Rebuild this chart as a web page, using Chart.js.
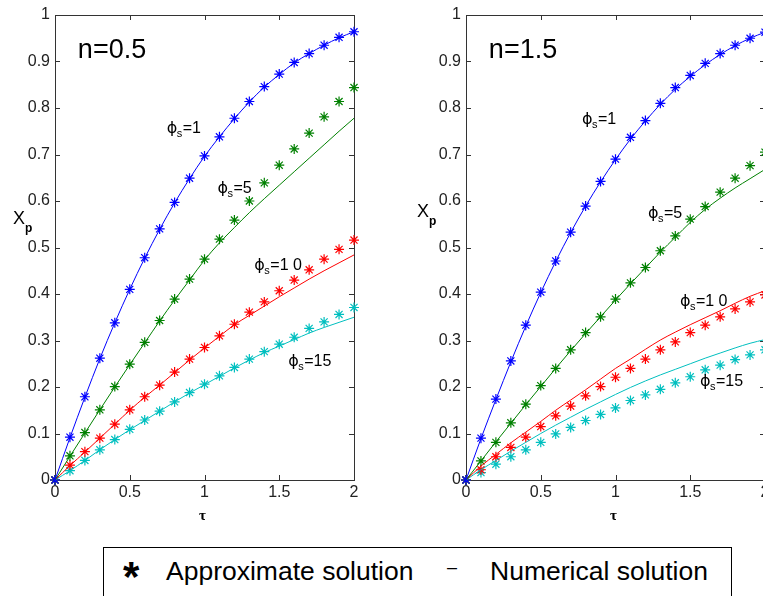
<!DOCTYPE html>
<html>
<head>
<meta charset="utf-8">
<script src="https://cdn.jsdelivr.net/npm/chart.js@4.4.1/dist/chart.umd.min.js"></script>
<style>
  html, body { margin: 0; padding: 0; background: #fff; }
  #wrap { position: relative; width: 763px; height: 596px; overflow: hidden; }
  .panel { position: absolute; top: 0; }
  #legend {
    position: absolute; left: 103px; top: 547px; width: 627px; height: 60px;
    border: 1px solid #000; border-bottom: none;
    font-family: "Liberation Sans", Arial, sans-serif; color: #000;
  }
  #legend span { position: absolute; white-space: nowrap; line-height: 1; }
</style>
</head>
<body>
<div id="wrap">
  <canvas id="left" class="panel" width="380" height="530" style="left:0px"></canvas>
  <canvas id="right" class="panel" width="380" height="530" style="left:411px"></canvas>
  <div id="legend">
    <span style="left:19px; top:8px; font-size:42px; font-weight:bold;">*</span>
    <span style="left:62px; top:10px; font-size:26.5px;">Approximate solution</span>
    <span style="left:343px; top:10px; font-size:18px;">–</span>
    <span style="left:386px; top:10px; font-size:26.5px;">Numerical solution</span>
  </div>
</div>
<script>
// dimensionless time
var tau = [0, 0.1, 0.2, 0.3, 0.4, 0.5, 0.6, 0.7, 0.8, 0.9, 1.0,
           1.1, 1.2, 1.3, 1.4, 1.5, 1.6, 1.7, 1.8, 1.9, 2.0];

// n = 0.5, approximate solution (stars)
var apx05_phi1  = [0, 0.092, 0.179, 0.262, 0.338, 0.410, 0.478, 0.540, 0.597, 0.649, 0.697, 0.738, 0.778, 0.814, 0.846, 0.873, 0.898, 0.917, 0.935, 0.952, 0.964];
var apx05_phi5  = [0, 0.052, 0.102, 0.151, 0.201, 0.249, 0.296, 0.343, 0.389, 0.432, 0.475, 0.518, 0.559, 0.600, 0.639, 0.677, 0.712, 0.746, 0.781, 0.814, 0.844];
var apx05_phi10 = [0, 0.032, 0.061, 0.090, 0.120, 0.151, 0.179, 0.204, 0.232, 0.260, 0.285, 0.310, 0.335, 0.361, 0.383, 0.407, 0.430, 0.452, 0.475, 0.496, 0.516];
var apx05_phi15 = [0, 0.020, 0.042, 0.065, 0.087, 0.109, 0.129, 0.148, 0.168, 0.188, 0.206, 0.224, 0.242, 0.260, 0.276, 0.292, 0.307, 0.326, 0.340, 0.356, 0.371];
// n = 0.5, numerical solution (lines)
var num05_phi1  = [0, 0.091, 0.178, 0.261, 0.338, 0.410, 0.477, 0.539, 0.596, 0.648, 0.696, 0.738, 0.777, 0.813, 0.845, 0.872, 0.897, 0.917, 0.935, 0.951, 0.964];
var num05_phi5  = [0, 0.051, 0.101, 0.151, 0.200, 0.248, 0.295, 0.342, 0.387, 0.430, 0.473, 0.510, 0.543, 0.575, 0.605, 0.634, 0.663, 0.692, 0.721, 0.750, 0.778];
var num05_phi10 = [0, 0.031, 0.060, 0.090, 0.120, 0.150, 0.178, 0.204, 0.231, 0.258, 0.284, 0.309, 0.334, 0.354, 0.374, 0.394, 0.413, 0.432, 0.450, 0.467, 0.484];
var num05_phi15 = [0, 0.020, 0.042, 0.065, 0.087, 0.108, 0.128, 0.148, 0.168, 0.187, 0.205, 0.223, 0.241, 0.258, 0.274, 0.288, 0.302, 0.316, 0.328, 0.339, 0.350];

// n = 1.5, approximate solution (stars)
var apx15_phi1  = [0, 0.090, 0.174, 0.256, 0.333, 0.404, 0.471, 0.533, 0.589, 0.642, 0.690, 0.737, 0.773, 0.810, 0.844, 0.870, 0.896, 0.917, 0.935, 0.950, 0.963];
var apx15_phi5  = [0, 0.041, 0.081, 0.123, 0.163, 0.203, 0.240, 0.280, 0.317, 0.351, 0.389, 0.424, 0.457, 0.493, 0.525, 0.561, 0.588, 0.619, 0.649, 0.676, 0.705];
var apx15_phi10 = [0, 0.022, 0.050, 0.070, 0.092, 0.115, 0.138, 0.159, 0.181, 0.201, 0.221, 0.240, 0.260, 0.280, 0.297, 0.317, 0.333, 0.351, 0.368, 0.383, 0.398];
var apx15_phi15 = [0, 0.016, 0.034, 0.050, 0.065, 0.081, 0.099, 0.113, 0.128, 0.141, 0.155, 0.171, 0.183, 0.195, 0.209, 0.222, 0.237, 0.247, 0.259, 0.269, 0.280];
// n = 1.5, numerical solution (lines)
var num15_phi1  = [0, 0.089, 0.173, 0.254, 0.331, 0.403, 0.470, 0.532, 0.589, 0.641, 0.689, 0.733, 0.772, 0.808, 0.840, 0.868, 0.893, 0.915, 0.934, 0.950, 0.963];
var num15_phi5  = [0, 0.041, 0.082, 0.122, 0.162, 0.201, 0.240, 0.278, 0.315, 0.351, 0.387, 0.422, 0.456, 0.490, 0.522, 0.554, 0.582, 0.606, 0.628, 0.648, 0.668];
var num15_phi10 = [0, 0.030, 0.055, 0.080, 0.103, 0.126, 0.150, 0.172, 0.194, 0.217, 0.240, 0.260, 0.281, 0.301, 0.318, 0.334, 0.349, 0.364, 0.380, 0.395, 0.407];
var num15_phi15 = [0, 0.022, 0.042, 0.062, 0.081, 0.100, 0.118, 0.135, 0.152, 0.168, 0.184, 0.199, 0.213, 0.226, 0.238, 0.250, 0.262, 0.273, 0.284, 0.294, 0.302];

var phiValues = ['1', '5', '1 0', '15'];
var colors = ['#0000ff', '#008000', '#ff0000', '#00bfbf'];

// where the phi_s labels sit, in (tau, Xp)
var phiPos05 = [[0.747, 0.746], [1.087, 0.617], [1.333, 0.452], [1.56, 0.245]];
var phiPos15 = [[0.776, 0.766], [1.217, 0.563], [1.431, 0.374], [1.565, 0.202]];

var FONT = '"Liberation Sans", Arial, sans-serif';
var AXIS = '#333333';

function pts(vals) {
  return tau.map(function (t, i) { return { x: t, y: vals[i] }; });
}

// matlab style: plain numbers, no trailing .0
function fmt(v) {
  return String(Math.round(v * 100) / 100);
}

var boxPlugin = {
  id: 'box',
  beforeDatasetsDraw: function (chart) {
    var ctx = chart.ctx, a = chart.chartArea;
    var xs = chart.scales.x, ys = chart.scales.y;
    ctx.save();
    ctx.strokeStyle = AXIS;
    ctx.lineWidth = 1;
    ctx.strokeRect(a.left + 0.5, a.top + 0.5, a.right - a.left, a.bottom - a.top);
    ctx.beginPath();
    ys.ticks.forEach(function (t) {
      var py = Math.round(ys.getPixelForValue(t.value)) + 0.5;
      ctx.moveTo(a.left, py); ctx.lineTo(a.left + 5, py);
      ctx.moveTo(a.right, py); ctx.lineTo(a.right - 5, py);
    });
    xs.ticks.forEach(function (t) {
      var px = Math.round(xs.getPixelForValue(t.value)) + 0.5;
      ctx.moveTo(px, a.top); ctx.lineTo(px, a.top + 5);
      ctx.moveTo(px, a.bottom); ctx.lineTo(px, a.bottom - 5);
    });
    ctx.stroke();
    ctx.restore();
  },
  afterDraw: function (chart, args, opts) {
    var ctx = chart.ctx, a = chart.chartArea;
    var xs = chart.scales.x, ys = chart.scales.y;
    ctx.save();
    ctx.fillStyle = '#000';
    ctx.textBaseline = 'alphabetic';
    ctx.textAlign = 'left';

    // panel title n=...
    ctx.font = '27px ' + FONT;
    ctx.fillText(opts.title, xs.getPixelForValue(opts.titlePos[0]), ys.getPixelForValue(opts.titlePos[1]));

    // phi_s labels
    opts.phiPos.forEach(function (p, i) {
      var x0 = xs.getPixelForValue(p[0]), y0 = ys.getPixelForValue(p[1]);
      ctx.font = '16px "DejaVu Sans", sans-serif';
      ctx.fillText('\u03d5', x0, y0);
      ctx.font = '11px ' + FONT;
      ctx.fillText('s', x0 + 10, y0 + 4);
      ctx.font = '16px ' + FONT;
      ctx.fillText('=' + phiValues[i], x0 + 16, y0);
    });

    // y label X_p
    ctx.font = '18px ' + FONT;
    ctx.fillText('X', a.left - opts.ylab[0], opts.ylab[1]);
    ctx.font = 'bold 12px ' + FONT;
    ctx.fillText('p', a.left - opts.ylab[0] + 12, opts.ylab[1] + 8);

    // x label tau
    ctx.font = 'bold 15px "Liberation Serif", serif';
    ctx.textAlign = 'center';
    ctx.fillText('\u03c4', (a.left + a.right) / 2 - 2, 520);
    ctx.restore();
  }
};

function makeChart(id, apx, num, title, phiPos, ylab) {
  var datasets = [];
  num.forEach(function (vals, i) {
    datasets.push({
      data: pts(vals), borderColor: colors[i], borderWidth: 1,
      pointRadius: 0, cubicInterpolationMode: 'monotone', clip: false
    });
  });
  apx.forEach(function (vals, i) {
    datasets.push({
      data: pts(vals), showLine: false, pointStyle: 'star',
      pointRadius: 5, pointBorderWidth: 1.2,
      borderColor: colors[i], backgroundColor: colors[i], clip: false
    });
  });
  var tickFont = { family: FONT, size: 16 };
  return new Chart(document.getElementById(id), {
    type: 'line',
    data: { datasets: datasets },
    plugins: [boxPlugin],
    options: {
      responsive: false,
      animation: false,
      layout: { padding: { top: 15, right: 26, left: 0, bottom: 0 } },
      plugins: {
        legend: { display: false },
        tooltip: { enabled: false },
        box: { title: title, titlePos: [0.153, 0.908], phiPos: phiPos, ylab: ylab }
      },
      scales: {
        x: {
          type: 'linear', min: 0, max: 2,
          afterFit: function (s) { s.height = 50; },
          ticks: { stepSize: 0.5, padding: 3, font: tickFont, color: '#222', maxRotation: 0, autoSkip: false, callback: fmt },
          grid: { display: false, drawTicks: false },
          border: { display: false }
        },
        y: {
          type: 'linear', min: 0, max: 1,
          afterFit: function (s) { s.width = 55; },
          ticks: { stepSize: 0.1, padding: 5, font: tickFont, color: '#222', autoSkip: false, callback: fmt },
          grid: { display: false, drawTicks: false },
          border: { display: false }
        }
      }
    }
  });
}

makeChart('left',
  [apx05_phi1, apx05_phi5, apx05_phi10, apx05_phi15],
  [num05_phi1, num05_phi5, num05_phi10, num05_phi15],
  'n=0.5', phiPos05, [42, 224]);

makeChart('right',
  [apx15_phi1, apx15_phi5, apx15_phi10, apx15_phi15],
  [num15_phi1, num15_phi5, num15_phi10, num15_phi15],
  'n=1.5', phiPos15, [49, 217]);
</script>
</body>
</html>
